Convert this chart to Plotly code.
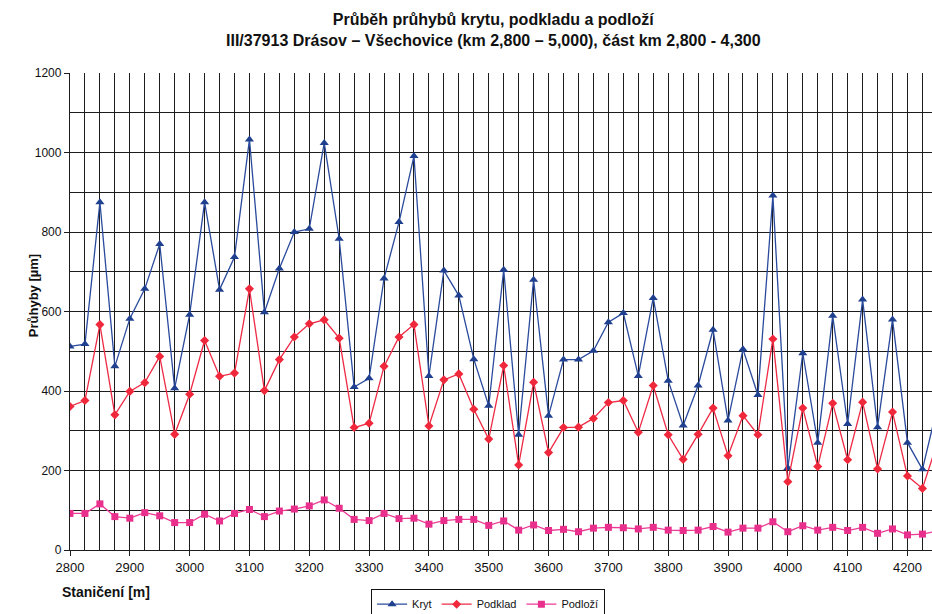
import plotly.graph_objects as go

# Staničení (m), every 25 m
stations = list(range(2800, 4251, 25))

# Průhyby [µm]
kryt = [512, 518, 875, 462, 582, 657, 770, 407, 592, 875,
        655, 737, 1033, 598, 708, 800, 808, 1024, 783, 410,
        432, 683, 825, 991, 438, 703, 640, 480, 363, 705,
        290, 680, 338, 479, 479, 501, 573, 596, 438, 634,
        426, 313, 414, 554, 326, 505, 390, 892, 206, 495,
        270, 589, 317, 630, 309, 580, 270, 203, 360]

podklad = [361, 376, 567, 340, 399, 421, 487, 291, 392, 527,
           437, 445, 657, 401, 479, 536, 569, 579, 533, 308,
           319, 462, 536, 567, 312, 428, 443, 354, 279, 464,
           214, 422, 245, 308, 309, 331, 371, 376, 296, 414,
           290, 228, 291, 357, 237, 338, 290, 531, 172, 357,
           210, 369, 227, 372, 204, 347, 186, 155, 270]

podlozi = [92, 92, 116, 84, 80, 94, 86, 69, 69, 90,
           73, 92, 102, 84, 98, 103, 111, 126, 105, 77,
           74, 92, 79, 80, 65, 74, 77, 77, 62, 73,
           50, 63, 49, 52, 46, 55, 57, 56, 53, 57,
           50, 49, 50, 59, 45, 55, 55, 71, 46, 61,
           50, 57, 49, 57, 42, 53, 38, 40, 48]

FONT = "Liberation Sans, Arial, sans-serif"
NARROW = "Liberation Sans Narrow, Arial Narrow, Liberation Sans, sans-serif"
GRID = "#1c1c1c"

fig = go.Figure()
fig.add_trace(go.Scatter(
    x=stations, y=kryt, name="Kryt", mode="lines+markers",
    line=dict(color="#2a4a9c", width=1.3),
    marker=dict(symbol="triangle-up", size=8, color="#1f3f8f"),
))
fig.add_trace(go.Scatter(
    x=stations, y=podklad, name="Podklad", mode="lines+markers",
    line=dict(color="#ee2a45", width=1.3),
    marker=dict(symbol="diamond", size=7, color="#f0283c"),
))
fig.add_trace(go.Scatter(
    x=stations, y=podlozi, name="Podloží", mode="lines+markers",
    line=dict(color="#ec3a95", width=1.3),
    marker=dict(symbol="square", size=7, color="#e8308c"),
))

fig.update_layout(
    width=932, height=614,
    margin=dict(l=70, r=0, t=73, b=64, autoexpand=False),
    paper_bgcolor="white", plot_bgcolor="white",
    font=dict(family=FONT, size=12, color="#111"),
    xaxis=dict(
        range=[2800, 4241], dtick=100, tick0=2800,
        showgrid=True, gridcolor=GRID, gridwidth=1.3,
        minor=dict(dtick=25, showgrid=True, gridcolor=GRID, gridwidth=1.3),
        ticks="outside", ticklen=5, tickcolor=GRID,
        showline=True, linecolor=GRID, linewidth=1.3,
        zeroline=False, tickfont=dict(size=13),
    ),
    yaxis=dict(
        range=[0, 1200], dtick=200,
        showgrid=True, gridcolor=GRID, gridwidth=1.3,
        minor=dict(dtick=100, showgrid=True, gridcolor=GRID, gridwidth=1.3),
        ticks="outside", ticklen=5, tickcolor=GRID,
        showline=True, linecolor=GRID, linewidth=1.3,
        zeroline=False, tickfont=dict(size=12),
    ),
    legend=dict(
        orientation="h", x=0.485, xanchor="center",
        yref="container", y=0.016, yanchor="middle",
        bordercolor="#111", borderwidth=1, bgcolor="white",
        font=dict(family=FONT, size=11), itemwidth=30,
    ),
    showlegend=True,
)

# Two-line chart heading
fig.add_annotation(
    text="<b>Průběh průhybů krytu, podkladu a podloží<br>"
         "III/37913 Drásov – Všechovice (km 2,800 – 5,000), část km 2,800 - 4,300</b>",
    xref="paper", yref="paper", x=0.491, y=1.09,
    xanchor="center", yanchor="middle", showarrow=False,
    font=dict(family=FONT, size=16, color="#111"),
)
fig.add_annotation(
    text="<b>Průhyby [µm]</b>", xref="paper", yref="paper",
    x=-0.043, y=0.534, textangle=-90, showarrow=False,
    xanchor="center", yanchor="middle", font=dict(family=NARROW, size=13),
)
fig.add_annotation(
    text="<b>Staničení [m]</b>", xref="paper", yref="paper",
    x=-0.012, y=-0.088, showarrow=False,
    xanchor="left", yanchor="middle", font=dict(family=NARROW, size=14),
)

fig.write_html("out.html")
